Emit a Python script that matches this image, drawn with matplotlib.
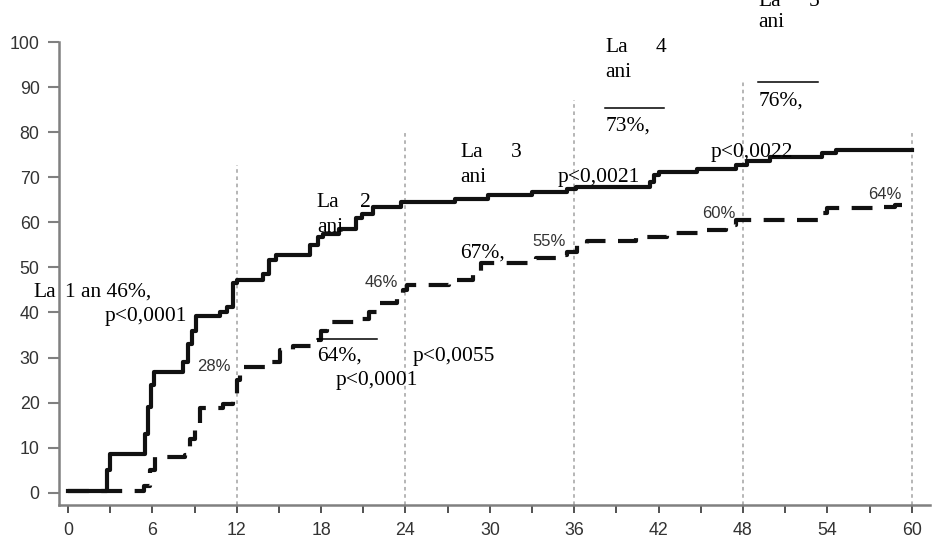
import matplotlib
matplotlib.use("Agg")
import matplotlib.pyplot as plt

# solid curve (upper group), step 'post'
solid_t = [0, 2.8, 3.0, 5.5, 5.7, 5.9, 6.1, 8.2, 8.5, 8.8, 9.1, 10.8, 11.3, 11.7, 12.0,
           13.9, 14.3, 14.8, 17.2, 17.8, 18.1, 19.3, 20.5, 20.9, 21.7, 23.7, 27.5, 29.9,
           33.0, 35.5, 36.1, 41.4, 41.7, 42.0, 44.7, 47.5, 48.3, 49.9, 53.6, 54.6, 60]
solid_v = [0.4, 5, 8.6, 13, 19, 24, 26.8, 29, 33, 36, 39.2, 40.2, 41.3, 46.5,
           47.3, 48.5, 51.6, 52.8, 55.0, 56.7, 57.5, 58.5, 61.0, 61.8, 63.4, 64.4, 65.2, 66.0,
           66.8, 67.5, 67.8, 69.0, 70.5, 71.2, 71.8, 72.8, 73.5, 74.5, 75.3, 76.1, 76.1]

# dashed curve (lower group)
dash_t = [0, 5.4, 5.8, 6.2, 8.3, 8.7, 9.0, 9.4, 11.0, 11.7, 12.0, 12.2, 14.5, 15.1, 16.0,
          17.5, 18.0, 18.4, 20.8, 21.4, 22.0, 23.4, 23.8, 24.1, 27.1, 28.8, 29.4, 33.3,
          34.8, 35.5, 36.2, 36.9, 40.4, 42.6, 45.1, 46.8, 47.5, 53.4, 54.0, 57.7, 58.8, 59.3]
dash_v = [0.3, 1.5, 5, 7.9, 8.5, 12, 15.5, 18.8, 19.6, 20.8, 25, 28, 29, 31.7, 32.5,
          33.8, 36, 37.8, 38.6, 40, 42.1, 43.2, 45, 46.2, 47.2, 48.8, 51, 52.1,
          52.8, 53.5, 55, 55.8, 56.7, 57.6, 58.4, 59.5, 60.6, 62.1, 63.2, 63.4, 63.9, 63.9]

# dotted year markers
year_x = [12, 24, 36, 48, 60]
year_top = [72.7, 80.3, 87.1, 91.6, 80.0]

x_ticks = list(range(0, 61, 6))
y_ticks = list(range(0, 101, 10))

# small sans labels on curve: (x, y, text)
pct_labels = [(9.2, 28.0, "28%"), (21.1, 46.7, "46%"), (33.0, 55.7, "55%"),
              (45.1, 61.9, "60%"), (56.9, 66.1, "64%")]

# serif annotations, baseline anchored: (x, y, text)
serif_labels = [
    (-2.49, 43.5, "La"), (-0.2, 43.5, "1 an 46%,"), (2.63, 38.1, "p<0,0001"),
    (17.7, 63.4, "La"), (20.75, 63.4, "2"), (17.7, 57.9, "ani"),
    (19.0, 24.0, "p<0,0001"), (17.7, 29.3, "64%,"), (24.5, 29.3, "p<0,0055"),
    (27.9, 74.5, "La"), (31.5, 74.5, "3"), (27.9, 69.0, "ani"),
    (27.9, 52.1, "67%,"), (34.8, 69.0, "p<0,0021"),
    (38.2, 97.8, "La"), (41.8, 97.8, "4"), (38.2, 92.2, "ani"), (38.2, 80.3, "73%,"),
    (45.7, 74.5, "p<0,0022"),
    (49.1, 108.0, "La"), (52.7, 108.0, "5"), (49.1, 103.3, "ani"), (49.1, 86.0, "76%,"),
]

# short rules above some percentages: (x0, x1, y)
rules = [(17.7, 22.0, 34.1), (38.2, 42.4, 85.3), (49.1, 53.3, 91.1)]

fig = plt.figure(figsize=(9.43, 5.46), dpi=100)
ax = fig.add_axes([59 / 943, 1 - 505 / 546, (930 - 59) / 943, (505 - 42) / 546])
ax.set_xlim(-0.64, 61.3)
ax.set_ylim(-2.7, 100)

ax.vlines(year_x, -2.7, year_top, colors="#b0b0b0", linewidth=1.3,
          linestyles=(0, (2, 2)), zorder=1)

ax.step(dash_t, dash_v, where="post", color="#111111", linewidth=3.0,
        dashes=(5, 3), dash_capstyle="butt", zorder=2)
ax.step(solid_t, solid_v, where="post", color="#111111", linewidth=3.0, zorder=3)

for sp in ["top", "right"]:
    ax.spines[sp].set_visible(False)
for sp in ["left", "bottom"]:
    ax.spines[sp].set_color("#808080")
    ax.spines[sp].set_linewidth(1.8)

ax.set_xticks(x_ticks)
ax.set_xticks(list(range(3, 61, 6)), minor=True)
ax.set_yticks(y_ticks)
ax.tick_params(axis="y", length=8, width=1.5, color="#808080", pad=6,
               labelsize=12.8, labelcolor="#333333")
ax.tick_params(axis="x", which="both", length=6, width=1.2, color="#333333", pad=6,
               labelsize=12.8, labelcolor="#333333")
for lab in ax.get_xticklabels() + ax.get_yticklabels():
    lab.set_family("Liberation Sans")

for x, y, s in pct_labels:
    ax.text(x, y, s, family="Liberation Sans", fontsize=12, color="#333333",
            va="center", ha="left", zorder=4)

for x, y, s in serif_labels:
    ax.text(x, y, s, family="Liberation Serif", fontsize=15.5, color="black",
            va="baseline", ha="left", clip_on=False, zorder=5)

for x0, x1, y in rules:
    ax.plot([x0, x1], [y, y], color="black", linewidth=1.1, clip_on=False)

fig.savefig("out.png", dpi=100)
